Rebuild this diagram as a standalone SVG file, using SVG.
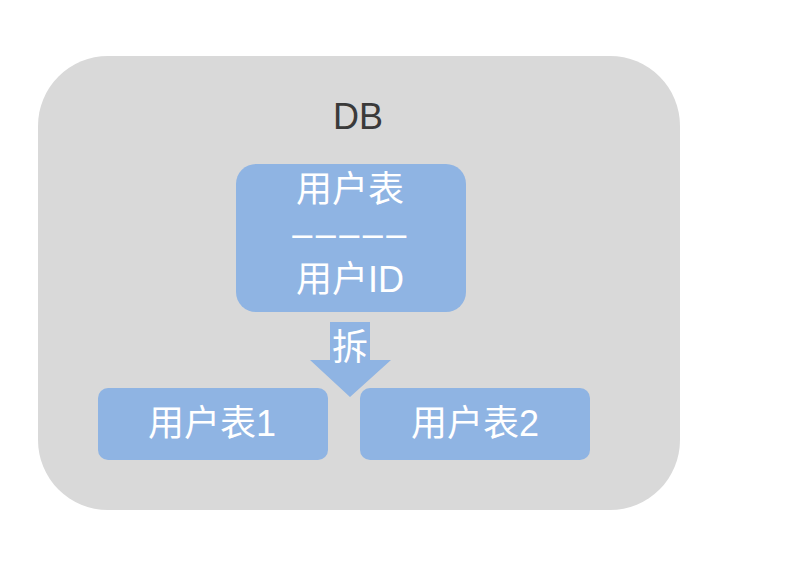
<svg xmlns="http://www.w3.org/2000/svg" width="786" height="580" viewBox="0 0 786 580">
<style>
.box{fill:#8fb4e3}
.t{font-family:"Liberation Sans","Noto Sans CJK SC",sans-serif;font-size:36px;fill:#ffffff;text-anchor:middle}
.db{font-family:"Liberation Sans","Noto Sans CJK SC",sans-serif;font-size:36px;fill:#3a3a3a;text-anchor:middle}
</style>
<rect width="786" height="580" fill="#ffffff"/>
<g id="db">
<rect x="38" y="56" width="642" height="454" rx="70" ry="70" fill="#d9d9d9"/>
<text class="db" x="358" y="129">DB</text>
</g>
<g id="user-table">
<rect class="box" x="236" y="164" width="230" height="148" rx="20" ry="20"/>
<text class="t" x="350" y="202">用户表</text>
<text class="t" x="351" y="246" font-size="34" letter-spacing="3.5">–––––</text>
<text class="t" x="350" y="292">用户ID</text>
</g>
<g id="connectors">
<polygon class="box" points="330,322 370,322 370,360 391,360 350,397 310,360 330,360"/>
<text class="t" x="350" y="360">拆</text>
</g>
<g id="user-table-1">
<rect class="box" x="98" y="388" width="230" height="72" rx="10" ry="10"/>
<text class="t" x="212" y="436">用户表1</text>
</g>
<g id="user-table-2">
<rect class="box" x="360" y="388" width="230" height="72" rx="10" ry="10"/>
<text class="t" x="475" y="436">用户表2</text>
</g>
</svg>
